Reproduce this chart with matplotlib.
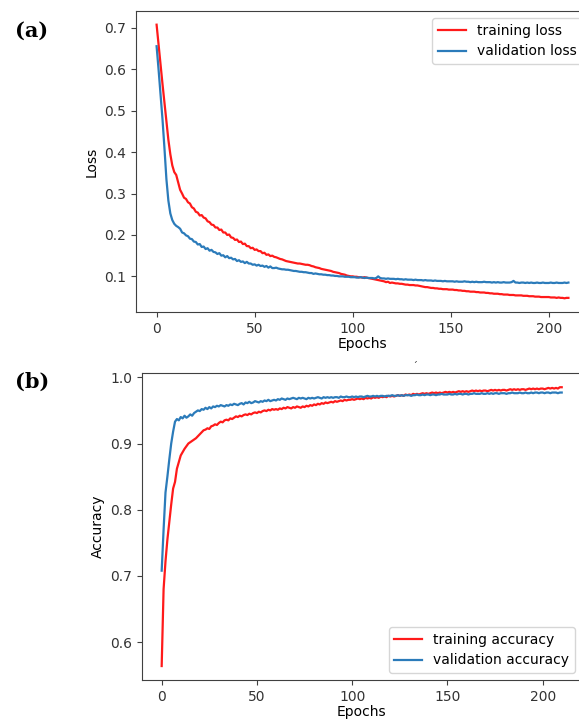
import matplotlib
matplotlib.use("Agg")
import matplotlib.pyplot as plt
import numpy as np

# --------------------------------------------------
# Datos (epochs 0..210)
# --------------------------------------------------
epochs = np.arange(211)

train_loss = [
    0.708, 0.660, 0.610, 0.565, 0.520, 0.475, 0.430, 0.395, 0.368, 0.352,
    0.345, 0.327, 0.309, 0.300, 0.290, 0.287, 0.279, 0.276, 0.267, 0.264,
    0.256, 0.254, 0.247, 0.248, 0.242, 0.240, 0.233, 0.231, 0.225, 0.224,
    0.218, 0.218, 0.212, 0.213, 0.206, 0.206, 0.200, 0.201, 0.194, 0.193,
    0.188, 0.189, 0.183, 0.184, 0.178, 0.179, 0.173, 0.173, 0.168, 0.169,
    0.164, 0.165, 0.161, 0.161, 0.156, 0.157, 0.152, 0.153, 0.149, 0.150,
    0.147, 0.146, 0.144, 0.142, 0.141, 0.139, 0.137, 0.136, 0.135, 0.134,
    0.133, 0.132, 0.131, 0.131, 0.130, 0.129, 0.128, 0.128, 0.127, 0.125,
    0.124, 0.122, 0.121, 0.120, 0.118, 0.117, 0.116, 0.115, 0.114, 0.113,
    0.111, 0.110, 0.109, 0.108, 0.106, 0.105, 0.104, 0.102, 0.101, 0.100,
    0.100, 0.099, 0.099, 0.098, 0.098, 0.097, 0.098, 0.097, 0.096, 0.095,
    0.094, 0.093, 0.092, 0.091, 0.090, 0.089, 0.088, 0.086, 0.087, 0.084,
    0.085, 0.084, 0.083, 0.083, 0.082, 0.082, 0.081, 0.080, 0.080, 0.079,
    0.079, 0.079, 0.078, 0.078, 0.077, 0.076, 0.075, 0.074, 0.074, 0.073,
    0.072, 0.072, 0.071, 0.071, 0.070, 0.070, 0.069, 0.069, 0.069, 0.068,
    0.068, 0.068, 0.067, 0.067, 0.066, 0.066, 0.065, 0.065, 0.064, 0.064,
    0.063, 0.063, 0.063, 0.062, 0.062, 0.061, 0.061, 0.061, 0.060, 0.060,
    0.059, 0.059, 0.058, 0.058, 0.058, 0.057, 0.057, 0.056, 0.056, 0.056,
    0.055, 0.055, 0.055, 0.054, 0.054, 0.054, 0.054, 0.053, 0.053, 0.053,
    0.052, 0.052, 0.052, 0.051, 0.051, 0.051, 0.050, 0.050, 0.050, 0.050,
    0.050, 0.049, 0.049, 0.049, 0.048, 0.049, 0.048, 0.048, 0.047, 0.048, 0.048,
]

val_loss = [
    0.656, 0.600, 0.540, 0.480, 0.410, 0.335, 0.283, 0.252, 0.236, 0.227,
    0.222, 0.219, 0.215, 0.206, 0.204, 0.199, 0.197, 0.191, 0.190, 0.184,
    0.183, 0.177, 0.178, 0.171, 0.172, 0.166, 0.168, 0.162, 0.164, 0.159,
    0.158, 0.154, 0.156, 0.150, 0.151, 0.146, 0.149, 0.144, 0.145, 0.141,
    0.142, 0.137, 0.139, 0.135, 0.136, 0.132, 0.135, 0.131, 0.131, 0.128,
    0.129, 0.126, 0.128, 0.125, 0.126, 0.123, 0.125, 0.121, 0.124, 0.120,
    0.120, 0.121, 0.119, 0.118, 0.117, 0.117, 0.116, 0.116, 0.115, 0.114,
    0.113, 0.113, 0.112, 0.111, 0.111, 0.110, 0.110, 0.109, 0.108, 0.108,
    0.106, 0.107, 0.106, 0.105, 0.105, 0.104, 0.104, 0.103, 0.103, 0.102,
    0.102, 0.101, 0.101, 0.100, 0.100, 0.100, 0.099, 0.099, 0.099, 0.098,
    0.098, 0.098, 0.097, 0.097, 0.098, 0.097, 0.096, 0.097, 0.096, 0.096,
    0.096, 0.095, 0.096, 0.100, 0.096, 0.095, 0.095, 0.094, 0.095, 0.094,
    0.094, 0.094, 0.093, 0.094, 0.093, 0.093, 0.092, 0.093, 0.092, 0.092,
    0.092, 0.091, 0.092, 0.091, 0.091, 0.091, 0.090, 0.091, 0.090, 0.090,
    0.090, 0.089, 0.090, 0.089, 0.089, 0.089, 0.088, 0.089, 0.088, 0.088,
    0.088, 0.088, 0.087, 0.088, 0.087, 0.087, 0.087, 0.088, 0.087, 0.087,
    0.086, 0.087, 0.086, 0.087, 0.086, 0.086, 0.086, 0.087, 0.086, 0.086,
    0.086, 0.085, 0.086, 0.085, 0.086, 0.085, 0.085, 0.086, 0.085, 0.085,
    0.085, 0.086, 0.089, 0.085, 0.085, 0.084, 0.085, 0.085, 0.084, 0.085,
    0.084, 0.085, 0.084, 0.084, 0.085, 0.084, 0.084, 0.085, 0.084, 0.084,
    0.084, 0.085, 0.084, 0.084, 0.085, 0.084, 0.084, 0.084, 0.085, 0.084, 0.085,
]

train_acc = [
    0.564, 0.680, 0.722, 0.755, 0.782, 0.808, 0.832, 0.842, 0.862, 0.872,
    0.882, 0.887, 0.892, 0.896, 0.900, 0.902, 0.904, 0.906, 0.908, 0.911,
    0.914, 0.917, 0.920, 0.921, 0.923, 0.922, 0.926, 0.927, 0.929, 0.928,
    0.931, 0.933, 0.932, 0.935, 0.936, 0.935, 0.938, 0.937, 0.939, 0.941,
    0.940, 0.942, 0.941, 0.943, 0.944, 0.943, 0.945, 0.944, 0.946, 0.947,
    0.946, 0.948, 0.947, 0.949, 0.950, 0.949, 0.951, 0.950, 0.952, 0.951,
    0.952, 0.951, 0.953, 0.952, 0.954, 0.953, 0.955, 0.954, 0.953, 0.955,
    0.954, 0.956, 0.955, 0.954, 0.956, 0.955, 0.957, 0.956, 0.958, 0.957,
    0.959, 0.958, 0.960, 0.959, 0.961, 0.960, 0.962, 0.961, 0.962, 0.963,
    0.962, 0.964, 0.963, 0.964, 0.965, 0.964, 0.966, 0.965, 0.966, 0.966,
    0.967, 0.966, 0.967, 0.968, 0.967, 0.968, 0.967, 0.969, 0.968, 0.969,
    0.968, 0.970, 0.969, 0.970, 0.969, 0.971, 0.970, 0.971, 0.970, 0.972,
    0.971, 0.972, 0.971, 0.972, 0.973, 0.972, 0.973, 0.972, 0.974, 0.973,
    0.974, 0.973, 0.975, 0.974, 0.975, 0.974, 0.975, 0.976, 0.975, 0.976,
    0.975, 0.976, 0.977, 0.976, 0.977, 0.976, 0.977, 0.976, 0.977, 0.978,
    0.977, 0.978, 0.977, 0.978, 0.977, 0.978, 0.979, 0.978, 0.979, 0.978,
    0.979, 0.978, 0.979, 0.980, 0.979, 0.980, 0.979, 0.980, 0.979, 0.980,
    0.980, 0.979, 0.980, 0.981, 0.980, 0.981, 0.980, 0.981, 0.980, 0.981,
    0.981, 0.980, 0.981, 0.982, 0.981, 0.982, 0.981, 0.982, 0.981, 0.982,
    0.982, 0.981, 0.982, 0.983, 0.982, 0.983, 0.982, 0.983, 0.982, 0.983,
    0.983, 0.982, 0.983, 0.984, 0.983, 0.984, 0.983, 0.984, 0.983, 0.985, 0.985,
]

val_acc = [
    0.708, 0.770, 0.826, 0.850, 0.876, 0.900, 0.918, 0.933, 0.937, 0.935,
    0.940, 0.938, 0.942, 0.939, 0.941, 0.944, 0.942, 0.946, 0.948, 0.950,
    0.949, 0.952, 0.951, 0.954, 0.952, 0.955, 0.953, 0.956, 0.955, 0.957,
    0.956, 0.958, 0.957, 0.956, 0.958, 0.957, 0.959, 0.958, 0.960, 0.959,
    0.958, 0.960, 0.961, 0.959, 0.962, 0.961, 0.963, 0.961, 0.962, 0.964,
    0.963, 0.962, 0.964, 0.963, 0.965, 0.964, 0.966, 0.964, 0.965, 0.966,
    0.965, 0.967, 0.966, 0.968, 0.967, 0.966, 0.968, 0.967, 0.968, 0.969,
    0.968, 0.967, 0.969, 0.968, 0.969, 0.968, 0.967, 0.969, 0.968, 0.969,
    0.968, 0.969, 0.970, 0.969, 0.968, 0.970, 0.969, 0.970, 0.969, 0.970,
    0.969, 0.970, 0.970, 0.969, 0.971, 0.970, 0.970, 0.971, 0.970, 0.970,
    0.971, 0.970, 0.971, 0.970, 0.971, 0.971, 0.970, 0.971, 0.972, 0.971,
    0.971, 0.972, 0.971, 0.972, 0.971, 0.972, 0.972, 0.971, 0.972, 0.972,
    0.972, 0.973, 0.972, 0.972, 0.973, 0.972, 0.973, 0.972, 0.973, 0.973,
    0.973, 0.972, 0.973, 0.973, 0.974, 0.973, 0.973, 0.974, 0.973, 0.974,
    0.974, 0.973, 0.974, 0.974, 0.973, 0.974, 0.974, 0.975, 0.974, 0.974,
    0.974, 0.975, 0.974, 0.974, 0.975, 0.974, 0.975, 0.975, 0.974, 0.975,
    0.975, 0.974, 0.975, 0.975, 0.976, 0.975, 0.975, 0.975, 0.976, 0.975,
    0.975, 0.976, 0.975, 0.976, 0.975, 0.976, 0.976, 0.975, 0.976, 0.976,
    0.976, 0.975, 0.976, 0.976, 0.977, 0.976, 0.976, 0.976, 0.977, 0.976,
    0.976, 0.977, 0.976, 0.976, 0.977, 0.976, 0.977, 0.977, 0.976, 0.977,
    0.977, 0.976, 0.977, 0.977, 0.976, 0.977, 0.977, 0.977, 0.976, 0.977, 0.977,
]

RED = "#ff1a1a"
BLUE = "#2b7bba"

plt.rcParams["font.family"] = "DejaVu Sans"
plt.rcParams["font.size"] = 10
plt.rcParams["axes.edgecolor"] = "#404040"
plt.rcParams["xtick.color"] = "#404040"
plt.rcParams["ytick.color"] = "#404040"
plt.rcParams["xtick.labelcolor"] = "#333333"
plt.rcParams["ytick.labelcolor"] = "#333333"

fig = plt.figure(figsize=(5.79, 7.24), dpi=100)

# (a) Loss
ax1 = fig.add_axes([0.2349, 0.5691, 0.7824, 0.4157])
ax1.plot(epochs, train_loss, color=RED, lw=1.6, label="training loss")
ax1.plot(epochs, val_loss, color=BLUE, lw=1.6, label="validation loss")
ax1.set_xlabel("Epochs", labelpad=1)
ax1.set_ylabel("Loss")
ax1.set_yticks([0.1, 0.2, 0.3, 0.4, 0.5, 0.6, 0.7])
ax1.legend(loc="upper right")

# (b) Accuracy
ax2 = fig.add_axes([0.2447, 0.0608, 0.760, 0.4236])
ax2.plot(epochs, train_acc, color=RED, lw=1.6, label="training accuracy")
ax2.plot(epochs, val_acc, color=BLUE, lw=1.6, label="validation accuracy")
ax2.set_xlabel("Epochs", labelpad=1)
ax2.set_ylabel("Accuracy")
ax2.set_yticks([0.6, 0.7, 0.8, 0.9, 1.0])
ax2.legend(loc="lower right")

fig.text(0.026, 0.958, "(a)", fontsize=15, fontweight="bold", family="DejaVu Serif", va="center")
fig.text(0.026, 0.472, "(b)", fontsize=15, fontweight="bold", family="DejaVu Serif", va="center")
fig.text(0.716, 0.493, "\u00b4", fontsize=7, color="#333333", ha="center", va="center")

fig.savefig("out.png", dpi=100)
